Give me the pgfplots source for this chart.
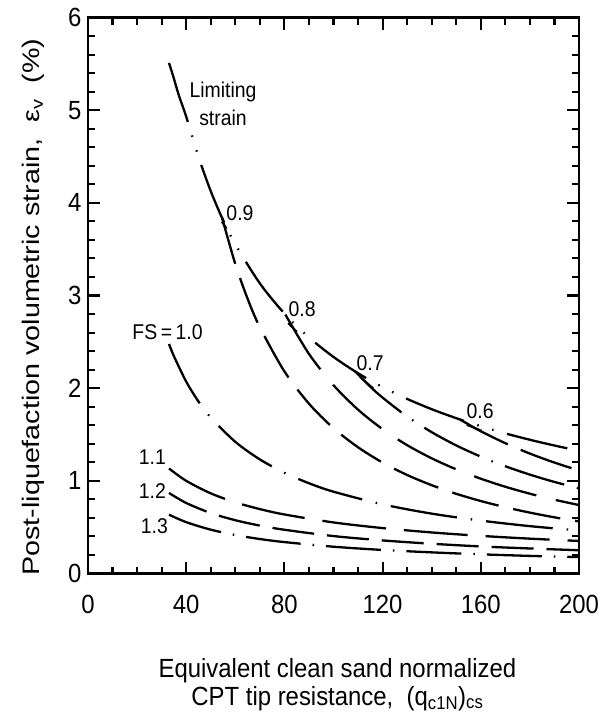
\documentclass[border=0pt]{standalone}
\usepackage{pgfplots}
\pgfplotsset{compat=1.18}
\usepackage{fontspec}
\setmainfont{Liberation Sans}
\newfontfamily\hfont{Liberation Sans}[FakeStretch=0.9091]
\newfontfamily\vfont{Liberation Sans}[FakeStretch=1.2]

\pgfplotstableread{
q y
33 5.51
35 5.34
37 5.16
40 4.93
45 4.497
50 4.126
55 3.815
60 3.553
70 3.131
80 2.806
90 2.548
100 2.337
110 2.161
120 2.012
130 1.884
140 1.773
150 1.676
160 1.589
170 1.512
180 1.443
190 1.381
200 1.324
}\limiting

\pgfplotstableread{
q y
54.6 3.840
60 3.339
65 2.966
70 2.658
80 2.181
90 1.833
100 1.568
110 1.362
120 1.197
130 1.063
140 0.953
150 0.860
160 0.782
170 0.715
180 0.657
190 0.606
200 0.562
}\fsnine

\pgfplotstableread{
q y
80.4 2.794
90 2.370
100 2.032
110 1.768
120 1.557
130 1.385
140 1.243
150 1.124
160 1.023
170 0.936
180 0.861
190 0.796
200 0.739
}\fseight

\pgfplotstableread{
q y
108.8 2.181
115 2.016
120 1.898
130 1.694
140 1.525
150 1.382
160 1.261
170 1.157
180 1.067
190 0.988
200 0.919
}\fsseven

\pgfplotstableread{
q y
151.5 1.662
160 1.535
170 1.406
180 1.294
190 1.197
200 1.111
}\fssix

\pgfplotstableread{
q y
33 2.477
35 2.345
40 2.071
45 1.856
50 1.683
60 1.421
70 1.231
80 1.087
90 0.974
100 0.883
120 0.746
140 0.646
160 0.571
180 0.511
200 0.464
}\fsone

\pgfplotstableread{
q y
33 1.133
40 1.000
50 0.865
60 0.768
70 0.695
80 0.637
100 0.551
120 0.490
140 0.443
160 0.406
180 0.376
200 0.351
}\fsoneone

\pgfplotstableread{
q y
33 0.869
40 0.761
50 0.652
60 0.575
70 0.517
80 0.472
100 0.404
120 0.357
140 0.321
160 0.292
180 0.270
200 0.251
}\fsonetwo

\pgfplotstableread{
q y
33 0.635
40 0.554
50 0.473
60 0.415
70 0.372
80 0.339
100 0.289
120 0.254
140 0.228
160 0.207
180 0.190
200 0.177
}\fsonethree

\begin{document}
\begin{tikzpicture}
\useasboundingbox (-88bp,-139.5bp) rectangle (514bp,573.5bp);
\begin{axis}[
  at={(0,0)}, anchor=south west,
  scale only axis, width=491bp, height=556bp,
  xmin=0, xmax=200, ymin=0, ymax=6,
  xtick={0,40,...,200}, minor x tick num=3,
  ytick={0,1,...,6}, minor y tick num=4,
  tick align=inside,
  major tick length=12bp, minor tick length=7bp,
  axis line style={line width=2.6bp},
  every tick/.append style={black, line width=2.1bp},
  tick label style={font=\hfont\fontsize{26.4}{30}\selectfont},
  /pgf/number format/assume math mode=true,
  xticklabel style={yshift=-18bp},
  yticklabel style={xshift=-3bp},
  xlabel={Equivalent clean sand normalized\\CPT tip resistance,\ \ (q\textsubscript{c1N})\textsubscript{cs}},
  xlabel style={align=center, font=\hfont\fontsize{26.4}{27.5}\selectfont, inner sep=0pt, at={(axis description cs:0.508,-0.153)}, anchor=north},
  ylabel={Post-liquefaction volumetric strain,\ \ ε\textsubscript{v}\ \ (\%)},
  ylabel style={font=\vfont\fontsize{24}{28}\selectfont, inner sep=0pt, at={(axis description cs:-0.112,0.479)}, anchor=center},
  clip=false,
  every axis plot/.append style={black, line width=2.3bp, smooth, no markers},
]
\addplot[dash pattern=on 62bp off 14bp on 1.5bp off 14bp on 1.5bp off 14bp] table {\limiting};
\addplot[dash pattern=on 48bp off 15bp] table {\fsnine};
\addplot[dash pattern=on 65bp off 20bp] table {\fseight};
\addplot[dash pattern=on 62bp off 13bp on 1.5bp off 13bp] table {\fsseven};
\addplot[dash pattern=on 54bp off 14bp] table {\fssix};
\addplot[dash pattern=on 67bp off 14bp on 1.5bp off 14bp] table {\fsone};
\addplot[dash pattern=on 64bp off 18bp] table {\fsoneone};
\addplot[dash pattern=on 42bp off 13bp] table {\fsonetwo};
\addplot[dash pattern=on 55bp off 12bp on 1.5bp off 12bp] table {\fsonethree};

\draw[line width=1.8bp] (axis cs:54.5,3.795) -- (axis cs:56.5,3.724);
\draw[line width=1.8bp] (axis cs:81.5,2.70) -- (axis cs:85.1,2.61);
\draw[line width=1.8bp] (axis cs:110.8,2.123) -- (axis cs:116.2,1.998);
\draw[line width=1.8bp] (axis cs:154.3,1.602) -- (axis cs:160.4,1.541);

\node[font=\hfont\fontsize{21.45}{28}\selectfont, align=center] at (axis cs:55,5.065) {Limiting\\strain};
\node[font=\hfont\fontsize{21.45}{24}\selectfont] at (axis cs:61.9,3.89) {0.9};
\node[font=\hfont\fontsize{21.45}{24}\selectfont] at (axis cs:87.2,2.853) {0.8};
\node[font=\hfont\fontsize{21.45}{24}\selectfont] at (axis cs:114.9,2.271) {0.7};
\node[font=\hfont\fontsize{21.45}{24}\selectfont] at (axis cs:159.7,1.753) {0.6};
\node[font=\hfont\fontsize{21.45}{24}\selectfont, anchor=east, inner sep=0pt] at (axis cs:46.8,2.605) {FS\,=\,1.0};
\node[font=\hfont\fontsize{21.45}{24}\selectfont, anchor=east, inner sep=0pt] at (axis cs:31.8,1.257) {1.1};
\node[font=\hfont\fontsize{21.45}{24}\selectfont, anchor=east, inner sep=0pt] at (axis cs:31.8,0.89) {1.2};
\node[font=\hfont\fontsize{21.45}{24}\selectfont, anchor=east, inner sep=0pt] at (axis cs:32.6,0.512) {1.3};
\end{axis}
\end{tikzpicture}
\end{document}
